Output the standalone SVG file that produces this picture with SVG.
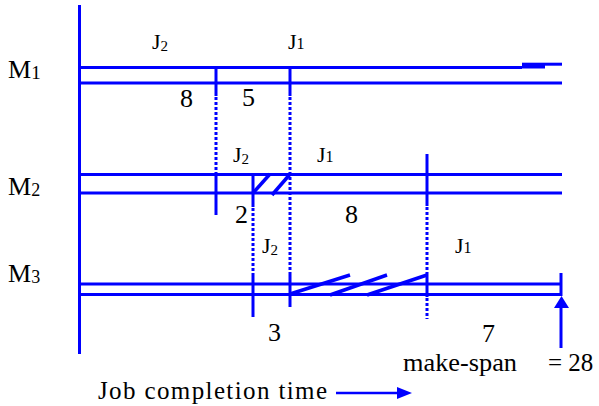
<svg xmlns="http://www.w3.org/2000/svg" width="599" height="406" viewBox="0 0 599 406">
<style>
.ln{stroke:#0000FF;stroke-width:3;fill:none}
.dt{stroke:#0000FF;stroke-width:3;fill:none;stroke-dasharray:3 2}
.hl{stroke:#0000FF;stroke-width:3.5;fill:none}
</style>
<g id="axis">
<line class="ln" x1="79.5" y1="5" x2="79.5" y2="354"/>
</g>
<g font-family="'Liberation Serif', 'DejaVu Serif', serif" fill="#000000">
<g id="M1">
<text font-size="26" x="8" y="78">M<tspan font-size="19" dy="1">1</tspan></text>
<line class="ln" x1="79" y1="67.5" x2="522" y2="67.5"/>
<rect x="522" y="62.7" width="23" height="5.8" fill="#0000FF"/>
<line class="ln" x1="545" y1="64.2" x2="562" y2="64.2"/>
<line class="ln" x1="79" y1="83" x2="562" y2="83"/>
<line class="ln" x1="216" y1="66" x2="216" y2="96"/>
<line class="ln" x1="290" y1="66" x2="290" y2="96"/>
<text font-size="22" x="152" y="49">J<tspan font-size="15" dy="2">2</tspan></text>
<text font-size="22" x="288" y="49">J<tspan font-size="16">1</tspan></text>
<text font-size="26" x="180" y="107">8</text>
<text font-size="26" x="242" y="106">5</text>
</g>
<g id="M2">
<text font-size="26" x="8" y="195">M<tspan font-size="18" dy="1">2</tspan></text>
<line class="ln" x1="79" y1="174.5" x2="562" y2="174.5"/>
<line class="ln" x1="79" y1="193" x2="562" y2="193"/>
<line class="ln" x1="216" y1="172" x2="216" y2="215"/>
<line class="ln" x1="253" y1="173" x2="253" y2="207"/>
<line class="ln" x1="427" y1="154" x2="427" y2="206"/>
<line class="hl" x1="253" y1="193" x2="270" y2="174"/>
<line class="hl" x1="272" y1="195" x2="291" y2="173"/>
<text font-size="22" x="233" y="162">J<tspan font-size="15" dy="2">2</tspan></text>
<text font-size="22" x="317" y="162">J<tspan font-size="16">1</tspan></text>
<text font-size="26" x="235" y="223">2</text>
<text font-size="26" x="345" y="223">8</text>
</g>
<g id="M3">
<text font-size="26" x="8" y="282">M<tspan font-size="18" dy="1">3</tspan></text>
<line class="ln" x1="79" y1="284" x2="561" y2="284"/>
<line class="ln" x1="79" y1="294.5" x2="561" y2="294.5"/>
<line class="ln" x1="253" y1="273" x2="253" y2="317"/>
<line class="ln" x1="290" y1="273" x2="290" y2="307"/>
<line class="ln" x1="427" y1="273" x2="427" y2="297"/>
<line class="ln" x1="561" y1="273" x2="561" y2="296"/>
<line class="hl" x1="290" y1="294" x2="350" y2="275"/>
<line class="hl" x1="330" y1="295" x2="387" y2="275"/>
<line class="hl" x1="367" y1="295" x2="427" y2="275"/>
<text font-size="22" x="262" y="253">J<tspan font-size="15" dy="2">2</tspan></text>
<text font-size="22" x="455" y="253">J<tspan font-size="16">1</tspan></text>
<text font-size="26" x="268" y="341">3</text>
<text font-size="26" x="482" y="342">7</text>
</g>
<g id="annotations">
<text x="403" y="371" font-size="25" textLength="114" lengthAdjust="spacingAndGlyphs">make-span</text>
<text x="548" y="371" font-size="25">= 28</text>
<text x="98" y="399" font-size="25" textLength="229" lengthAdjust="spacing">Job  completion  time</text>
</g>
</g>
<g id="precedence">
<line class="dt" x1="216" y1="97" x2="216" y2="172"/>
<line class="dt" x1="290" y1="97" x2="290" y2="273"/>
<line class="dt" x1="253" y1="208" x2="253" y2="273"/>
<line class="dt" x1="427" y1="207" x2="427" y2="273"/>
<line class="dt" x1="427" y1="298" x2="427" y2="319"/>
</g>
<g id="connectors">
<line class="ln" x1="561" y1="348" x2="561" y2="306"/>
<path d="M554,308 L561.5,296 L569,308 Z" fill="#0000FF"/>
<line stroke="#0000FF" stroke-width="2.5" x1="336" y1="393" x2="400" y2="393"/>
<path d="M397,387 L412,393 L397,399 Z" fill="#0000FF"/>
</g>
</svg>
